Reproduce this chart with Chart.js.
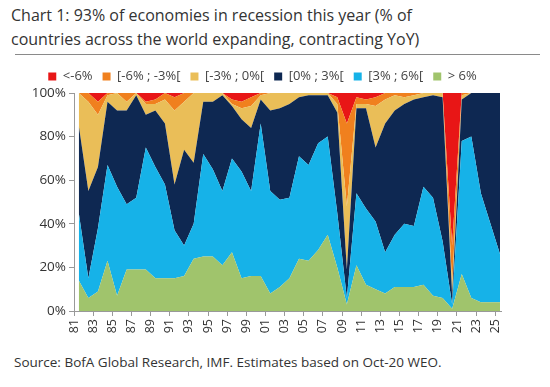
<!DOCTYPE html>
<html>
<head>
<meta charset="utf-8">
<script src="https://cdn.jsdelivr.net/npm/chart.js@4.4.1/dist/chart.umd.min.js"></script>
<style>
  body { margin: 0; background: #fff; width: 550px; height: 387px; overflow: hidden; position: relative; font-family: "Open Sans", sans-serif; }
  #titulo { position: absolute; left: 11px; top: 3px; font-size: 16px; line-height: 24px; color: #333; }
  #linha { position: absolute; left: 15px; top: 54px; width: 525px; height: 1px; background: #8a8a8a; }
  #wrap { position: absolute; left: 0; top: 58px; width: 550px; height: 292px; }
  #fonte { position: absolute; left: 14px; top: 353px; font-size: 13.5px; color: #333; }
</style>
</head>
<body>
<div id="titulo">Chart 1: 93% of economies in recession this year (% of<br>countries across the world expanding, contracting YoY)</div>
<div id="linha"></div>
<div id="wrap"><canvas id="grafico"></canvas></div>
<div id="fonte">Source: BofA Global Research, IMF. Estimates based on Oct-20 WEO.</div>
<script>
// anos (1981-2025)
var anos = [];
for (var a = 1981; a <= 2025; a++) anos.push(a);

// % de países em cada faixa de crescimento
var acima6 = [14,6,9,23,7,19,19,19,15,15,15,16,24,25,25,21,27,15,16,16,8,11,15,24,23,28,35,20,3,21,12,10,8,11,11,11,12,7,6,1,17,6,4,4,4];
var de3a6  = [31,9,29,44,50,30,33,56,51,43,22,14,16,47,40,34,43,49,39,70,47,40,37,47,44,49,45,25,3,33,35,31,19,24,29,28,45,45,26,2,61,74,50,36,22];
var de0a3  = [40,40,28,29,35,43,47,15,26,28,21,44,28,24,31,44,24,24,29,11,37,42,43,27,32,22,19,46,13,39,46,34,59,57,55,58,41,47,66,4,19,20,46,60,74];
var de3a0  = [15,41,24,3,8,4,1,5,3,11,34,22,32,4,4,1,1,5,10,2,8,7,5,2,1,1,1,4,29,2,2,19,11,7,3,2,2,1,2,5,2,0,0,0,0];
var de6a3  = [0,4,6,1,0,4,0,1,2,3,6,4,0,0,0,0,2,3,4,1,0,0,0,0,0,0,0,3,38,3,2,4,3,1,2,1,0,0,0,18,1,0,0,0,0];
var abaixo6 = [0,0,4,0,0,0,0,4,3,0,2,0,0,0,0,0,3,4,2,0,0,0,0,0,0,0,0,2,14,2,3,2,0,0,0,0,0,0,0,70,0,0,0,0,0];

// rótulos do eixo x: anos ímpares
var anosRotulo = anos.filter(function(a){ return a % 2 === 1; });

var faixas = [
  { label: '> 6%',        data: acima6,  cor: 'rgb(160,196,108)' },
  { label: '[3% ; 6%[',   data: de3a6,   cor: 'rgb(22,178,232)' },
  { label: '[0% ; 3%[',   data: de0a3,   cor: 'rgb(14,40,82)' },
  { label: '[-3% ; 0%[',  data: de3a0,   cor: 'rgb(234,190,88)' },
  { label: '[-6% ; -3%[', data: de6a3,   cor: 'rgb(240,128,30)' },
  { label: '<-6%',        data: abaixo6, cor: 'rgb(232,22,22)' }
];

// cada valor anual fica no meio do ano
var datasets = faixas.map(function(f, i){
  return {
    label: f.label,
    data: anos.map(function(ano, j){ return { x: ano + 0.5, y: f.data[j] }; }),
    backgroundColor: f.cor,
    borderColor: f.cor,
    borderWidth: 0,
    pointRadius: 0,
    fill: i === 0 ? 'origin' : '-1'
  };
});

new Chart(document.getElementById('grafico'), {
  type: 'line',
  data: { datasets: datasets },
  options: {
    responsive: true,
    maintainAspectRatio: false,
    animation: false,
    layout: { padding: { left: 24, right: 49, top: 2, bottom: 0 } },
    plugins: {
      legend: {
        reverse: true,
        labels: {
          boxWidth: 8,
          boxHeight: 8,
          padding: 10,
          color: '#444',
          font: { family: 'Open Sans', size: 13 }
        }
      },
      tooltip: { enabled: false }
    },
    scales: {
      x: {
        type: 'linear',
        min: 1981,
        max: 2025.6,
        grid: { display: true, drawOnChartArea: false, tickLength: 5, color: '#999' },
        border: { display: true, color: '#999' },
        afterBuildTicks: function(s){
          s.ticks = anosRotulo.map(function(a){ return { value: a }; });
        },
        ticks: {
          autoSkip: false,
          minRotation: 90,
          maxRotation: 90,
          color: '#333',
          font: { family: 'Open Sans', size: 12.5 },
          callback: function(v){ return String(v).slice(2); }
        },
        afterFit: function(s){ s.height = 39; }
      },
      y: {
        stacked: true,
        min: 0,
        max: 100,
        grid: { display: true, drawOnChartArea: false, tickLength: 5, color: '#999' },
        border: { display: true, color: '#999' },
        ticks: {
          stepSize: 20,
          color: '#333',
          font: { family: 'Open Sans', size: 13.5 },
          callback: function(v){ return v + '%'; }
        },
        afterFit: function(s){ s.width = 50; }
      }
    }
  }
});
</script>
</body>
</html>
